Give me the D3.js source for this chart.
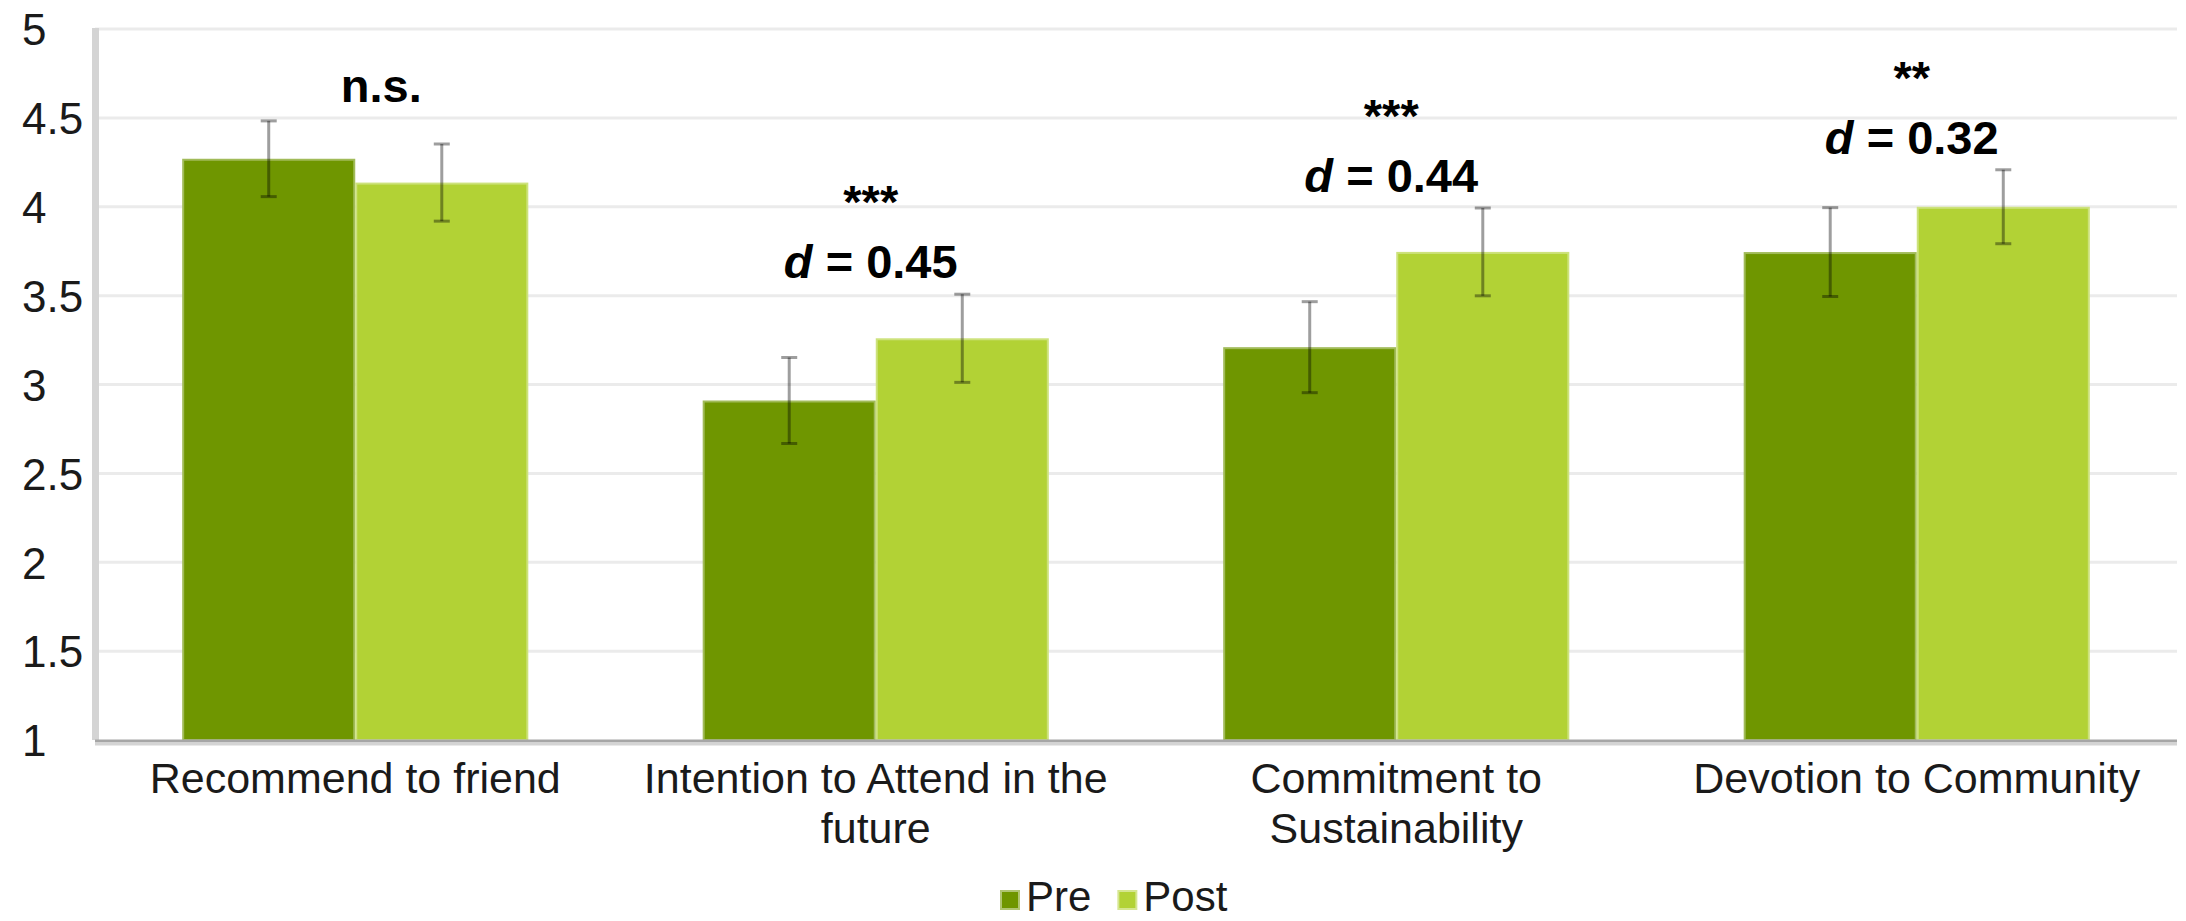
<!DOCTYPE html>
<html>
<head>
<meta charset="utf-8">
<script src="https://cdn.jsdelivr.net/npm/d3@7"></script>
<style>
    body { margin: 0; background: #fff; }
    svg { display: block; font-family: "Liberation Sans", Arial, sans-serif; }
</style>
</head>
<body>
<div id="chart"></div>
<script>
// Pre / Post means with error bars, four outcome measures

const categories = ['Recommend to friend', 'Intention to Attend in the future', 'Commitment to Sustainability', 'Devotion to Community'];
const seriesNames = ['Pre', 'Post'];
const preMeans = [4.27, 2.91, 3.21, 3.745];
const preErrors = [0.213, 0.242, 0.256, 0.25];
const postMeans = [4.136, 3.26, 3.746, 4.0];
const postErrors = [0.217, 0.248, 0.247, 0.208];
const sigLabels = ['n.s.', '***', '***', '**'];
const effectSizes = [null, '0.45', '0.44', '0.32'];
const yTicks = [1, 1.5, 2, 2.5, 3, 3.5, 4, 4.5, 5];
const seriesColors = ['#6f9600', '#b2d235'];

const width = 2186;
const height = 921;
const plot = { left: 95, right: 2177, top: 29, bottom: 740 };

const svg = d3.select('#chart').append('svg')
    .attr('width', width)
    .attr('height', height);

svg.append('rect').attr('width', width).attr('height', height).attr('fill', '#fff');

// Scales
const y = d3.scaleLinear().domain([1, 5]).range([plot.bottom, plot.top]);

const x0 = d3.scaleBand()
    .domain(categories)
    .range([plot.left, plot.right])
    .paddingInner(0.335)
    .paddingOuter(0.1675);

const x1 = d3.scaleBand()
    .domain(seriesNames)
    .range([0, x0.bandwidth()]);

const color = d3.scaleOrdinal().domain(seriesNames).range(seriesColors);

// Gridlines
svg.append('g')
    .selectAll('line')
    .data(yTicks.filter(d => d > 1))
    .join('line')
    .attr('x1', plot.left)
    .attr('x2', plot.right)
    .attr('y1', d => y(d))
    .attr('y2', d => y(d))
    .attr('stroke', '#ebebeb')
    .attr('stroke-width', 3);

// Vertical axis line
svg.append('line')
    .attr('x1', 95.5).attr('x2', 95.5)
    .attr('y1', plot.top - 1).attr('y2', plot.bottom)
    .attr('stroke', '#d4d4d4')
    .attr('stroke-width', 7);

// Y axis labels
const yAxis = d3.axisLeft(y).tickValues(yTicks).tickSize(0).tickFormat(d => String(d));
const yAxisGroup = svg.append('g')
    .attr('transform', `translate(${plot.left},0)`)
    .call(yAxis);
yAxisGroup.select('.domain').remove();
yAxisGroup.selectAll('text')
    .attr('x', 22 - plot.left)
    .attr('dy', '0.36em')
    .attr('text-anchor', 'start')
    .style('font-family', '"Liberation Sans", Arial, sans-serif')
    .style('font-size', '44px')
    .attr('fill', '#1a1a1a');

// Bars
const rows = categories.map((c, i) => ({
    category: c,
    values: [
        { series: 'Pre', mean: preMeans[i], err: preErrors[i] },
        { series: 'Post', mean: postMeans[i], err: postErrors[i] }
    ]
}));

const groups = svg.append('g')
    .selectAll('g')
    .data(rows)
    .join('g')
    .attr('transform', d => `translate(${x0(d.category)},0)`);

groups.selectAll('rect')
    .data(d => d.values)
    .join('rect')
    .attr('x', d => x1(d.series) + 1)
    .attr('y', d => y(d.mean) + 1)
    .attr('width', x1.bandwidth() - 2)
    .attr('height', d => y(1) - y(d.mean) - 1)
    .attr('fill', d => color(d.series))
    .attr('stroke', d => d3.interpolateRgb(color(d.series), '#fff')(0.35))
    .attr('stroke-width', 2);

// Error bars
const errG = groups.selectAll('g.err')
    .data(d => d.values)
    .join('g')
    .attr('class', 'err')
    .attr('transform', d => `translate(${x1(d.series) + x1.bandwidth() / 2},0)`)
    .attr('stroke', '#000')
    .attr('stroke-opacity', 0.38)
    .attr('stroke-width', 3);

errG.append('line')
    .attr('y1', d => y(d.mean + d.err))
    .attr('y2', d => y(d.mean - d.err));
errG.append('line')
    .attr('x1', -8).attr('x2', 8)
    .attr('y1', d => y(d.mean + d.err))
    .attr('y2', d => y(d.mean + d.err));
errG.append('line')
    .attr('x1', -8).attr('x2', 8)
    .attr('y1', d => y(d.mean - d.err))
    .attr('y2', d => y(d.mean - d.err));

// Baseline
svg.append('line')
    .attr('x1', plot.left).attr('x2', plot.right)
    .attr('y1', plot.bottom + 1).attr('y2', plot.bottom + 1)
    .attr('stroke', '#a6a6a6').attr('stroke-width', 3);
svg.append('line')
    .attr('x1', plot.left).attr('x2', plot.right)
    .attr('y1', plot.bottom + 4).attr('y2', plot.bottom + 4)
    .attr('stroke', '#d4d4d4').attr('stroke-width', 3);

// Category labels
const xAxis = d3.axisBottom(x0).tickSize(0);
const xAxisGroup = svg.append('g')
    .attr('transform', `translate(0,${plot.bottom})`)
    .call(xAxis);
xAxisGroup.select('.domain').remove();
xAxisGroup.selectAll('text')
    .style('font-family', '"Liberation Sans", Arial, sans-serif')
    .style('font-size', '43px')
    .attr('fill', '#1a1a1a')
    .each(function(label) {
        const text = d3.select(this);
        const words = label.split(' ');
        text.text(null).attr('y', 0).attr('dy', null);
        const lines = [];
        let line = [];
        let probe = text.append('tspan');
        words.forEach(w => {
            line.push(w);
            probe.text(line.join(' '));
            if (probe.node().getComputedTextLength() > 500 && line.length > 1) {
                line.pop();
                lines.push(line.join(' '));
                line = [w];
            }
        });
        lines.push(line.join(' '));
        probe.remove();
        lines.forEach((l, i) => {
            text.append('tspan')
                .attr('x', 0)
                .attr('y', 53 + i * 50)
                .text(l);
        });
    });

// Significance annotations
const annot = svg.append('g')
    .style('font-weight', 'bold')
    .style('font-size', '47px')
    .attr('fill', '#000')
    .attr('text-anchor', 'middle');

categories.forEach((c, i) => {
    const cx = x0(c) + x0.bandwidth() / 2;
    const top = Math.min(y(preMeans[i] + preErrors[i]), y(postMeans[i] + postErrors[i]));
    if (effectSizes[i] === null) {
        annot.append('text')
            .attr('x', cx + 26)
            .attr('y', top - 19)
            .text(sigLabels[i]);
    } else {
        const dBase = top - 16;
        annot.append('text')
            .attr('x', cx - 5)
            .attr('y', dBase - 60)
            .text(sigLabels[i]);
        const t = annot.append('text')
            .attr('x', cx - 5)
            .attr('y', dBase);
        t.append('tspan').style('font-style', 'italic').text('d');
        t.append('tspan').text(' = ' + effectSizes[i]);
    }
});

// Legend
const legend = svg.append('g')
    .attr('transform', 'translate(1000,911)')
    .style('font-size', '42px');

let lx = 0;
seriesNames.forEach(s => {
    const item = legend.append('g').attr('transform', `translate(${lx},0)`);
    item.append('rect')
        .attr('x', 1).attr('y', -20)
        .attr('width', 18).attr('height', 18)
        .attr('fill', color(s))
        .attr('stroke', d3.interpolateRgb(color(s), '#fff')(0.45))
        .attr('stroke-width', 2);
    const label = item.append('text')
        .attr('x', 26)
        .attr('y', 0)
        .attr('fill', '#1a1a1a')
        .text(s);
    lx += 26 + label.node().getComputedTextLength() + 26;
});
</script>
</body>
</html>
